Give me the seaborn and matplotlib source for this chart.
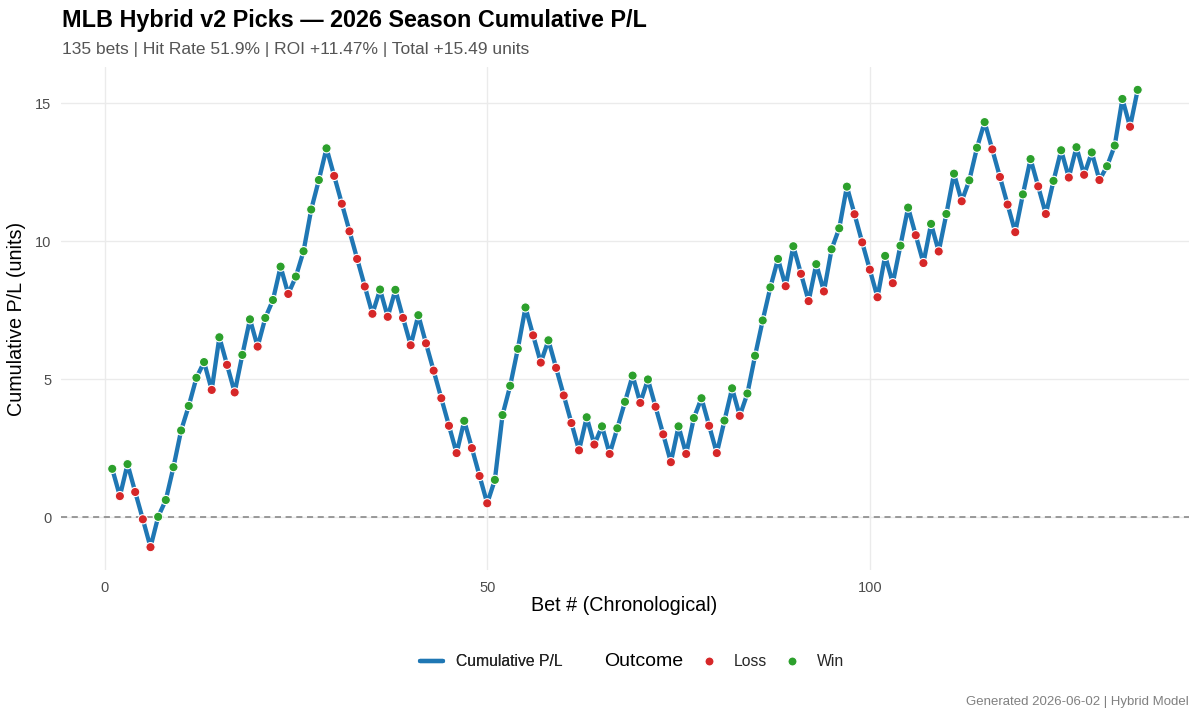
import matplotlib
matplotlib.use("Agg")
import matplotlib.pyplot as plt
from matplotlib.lines import Line2D
import seaborn as sns
import pandas as pd

# ---- data ----
cumulative_pl = [
    1.75, 0.76, 1.92, 0.91, -0.08, -1.09, 0.01, 0.62, 1.81, 3.14,
    4.03, 5.05, 5.62, 4.61, 6.52, 5.52, 4.52, 5.88, 7.17, 6.18,
    7.22, 7.87, 9.08, 8.09, 8.72, 9.64, 11.15, 12.22, 13.37, 12.37,
    11.36, 10.36, 9.36, 8.36, 7.37, 8.25, 7.26, 8.24, 7.22, 6.23,
    7.32, 6.30, 5.31, 4.31, 3.31, 2.32, 3.49, 2.50, 1.49, 0.50,
    1.35, 3.70, 4.76, 6.10, 7.60, 6.59, 5.60, 6.41, 5.41, 4.41,
    3.41, 2.42, 3.62, 2.63, 3.29, 2.29, 3.22, 4.18, 5.13, 4.14,
    4.99, 4.00, 3.00, 1.99, 3.29, 2.29, 3.59, 4.31, 3.31, 2.32,
    3.50, 4.67, 3.67, 4.48, 5.85, 7.13, 8.33, 9.36, 8.37, 9.82,
    8.82, 7.83, 9.17, 8.18, 9.71, 10.47, 11.98, 10.98, 9.96, 8.97,
    7.97, 9.47, 8.48, 9.84, 11.22, 10.22, 9.21, 10.63, 9.63, 10.99,
    12.45, 11.45, 12.21, 13.39, 14.32, 13.33, 12.33, 11.33, 10.33, 11.70,
    12.98, 11.99, 10.99, 12.19, 13.30, 12.31, 13.41, 12.41, 13.22, 12.22,
    12.72, 13.47, 15.16, 14.15, 15.49,
]
outcome_codes = (
    "WLWLLLWWWW" "WWWLWLLWWL" "WWWLWWWWWL" "LLLLLWLWLL" "WLLLLLWLLL"
    "WWWWWLLWLL" "LLWLWLWWWL" "WLLLWLWWLL" "WWLWWWWWLW" "LLWLWWWLLL"
    "LWLWWLLWLW" "WLWWWLLLLW" "WLLWWLWLWL" "WWWLW"
)
bet_numbers = list(range(1, len(cumulative_pl) + 1))
outcome_labels = {"W": "Win", "L": "Loss"}
outcomes = [outcome_labels[c] for c in outcome_codes]

title = "MLB Hybrid v2 Picks \u2014 2026 Season Cumulative P/L"
subtitle = "135 bets | Hit Rate 51.9% | ROI +11.47% | Total +15.49 units"
caption = "Generated 2026-06-02 | Hybrid Model"
x_label = "Bet # (Chronological)"
y_label = "Cumulative P/L (units)"
x_ticks = [0, 50, 100]
y_ticks = [0, 5, 10, 15]

df = pd.DataFrame({"bet": bet_numbers, "cum": cumulative_pl, "Outcome": outcomes})

LINE_C = "#1f77b4"
palette = {"Loss": "#d62728", "Win": "#2ca02c"}

sns.set_theme(style="whitegrid")
plt.rcParams["font.family"] = ["Liberation Sans", "DejaVu Sans"]

fig = plt.figure(figsize=(12, 7.2), dpi=100)
ax = fig.add_axes([0.0508, 0.2083, 0.9400, 0.6987])
ax.set_facecolor("white")

ax.axhline(0, color="#808080", lw=1.1, ls=(0, (4, 3)), zorder=1)
sns.lineplot(data=df, x="bet", y="cum", color=LINE_C, linewidth=3.1, ax=ax, zorder=2)
sns.scatterplot(data=df, x="bet", y="cum", hue="Outcome", palette=palette, s=44,
                edgecolor="white", linewidth=0.8, legend=False, ax=ax, zorder=3)

ax.margins(x=0.05, y=0.05)
ax.set_xticks(x_ticks)
ax.set_yticks(y_ticks)
for s in ax.spines.values():
    s.set_visible(False)
ax.grid(True, color="#ebebeb", linewidth=1.0)
ax.tick_params(axis="both", length=0, labelsize=10.5, labelcolor="#4d4d4d")
ax.tick_params(axis="x", pad=8)
ax.tick_params(axis="y", pad=7)

ax.set_xlabel(x_label, fontsize=14.2, color="black")
ax.set_ylabel(y_label, fontsize=14.2, color="black")
ax.xaxis.set_label_coords(0.4995, -0.052)
ax.yaxis.set_label_coords(-0.031, 0.5)

fig.text(62 / 1200, 1 - 26.7 / 720, title, fontsize=16.8, fontweight="bold",
         ha="left", va="baseline", color="black")
fig.text(62 / 1200, 1 - 54 / 720, subtitle, fontsize=12.5,
         ha="left", va="baseline", color="#555555")
fig.text(1189 / 1200, 1 - 702 / 720, caption, fontsize=9.5,
         ha="right", va="center", color="#808080")

# legend
leg_y = 1 - 662 / 720
h_line = Line2D([], [], color=LINE_C, lw=3.1)
leg1 = fig.legend(handles=[h_line], labels=["Cumulative P/L"], loc="center left",
                  bbox_to_anchor=(420 / 1200, leg_y), frameon=False, fontsize=11.3,
                  handlelength=1.47, handletextpad=0.83, borderpad=0, borderaxespad=0)
fig.add_artist(leg1)
h_pts = [Line2D([], [], marker="o", ls="none", markersize=6.5, markerfacecolor=palette[k],
                markeredgecolor="white", markeredgewidth=0.8) for k in ["Loss", "Win"]]
fig.legend(handles=h_pts, labels=["Loss", "Win"], loc="center left", ncol=2,
           bbox_to_anchor=(701 / 1200, leg_y), frameon=False, fontsize=11.3,
           handlelength=1.0, handletextpad=1.1, columnspacing=1.08,
           borderpad=0, borderaxespad=0)
fig.text(604 / 1200, leg_y, "Outcome", fontsize=14, ha="left", va="center", color="black")

fig.savefig("out.png", dpi=100, facecolor="white")
